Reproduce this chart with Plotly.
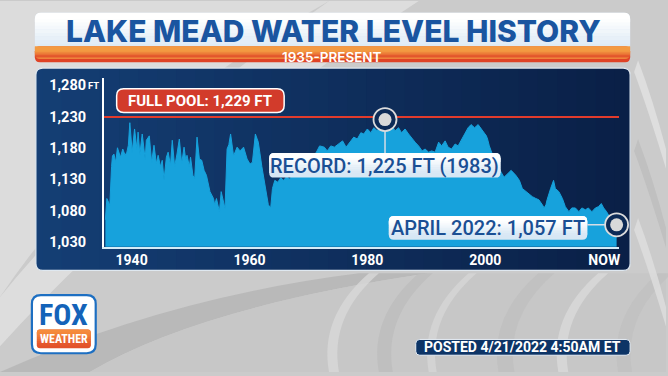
import plotly.graph_objects as go

# ---------------- data ----------------
years = [1935.55, 1935.8, 1936.0, 1936.3, 1936.6, 1936.75, 1937.0, 1937.3, 1937.6, 1938.1,
         1938.5, 1938.9, 1939.2, 1939.45, 1939.7, 1940.1, 1940.5, 1940.9, 1941.1, 1941.4,
         1941.8, 1942.3, 1942.5, 1943.0, 1943.4, 1943.8, 1944.2, 1944.5, 1944.9, 1945.2,
         1945.5, 1945.9, 1946.2, 1946.6, 1946.9, 1947.3, 1947.7, 1948.1, 1948.5, 1948.9,
         1949.2, 1949.4, 1949.8, 1950.0, 1950.4, 1950.7, 1951.1, 1951.5, 1951.9, 1952.3,
         1952.7, 1953.3, 1953.9, 1954.1, 1954.4, 1954.9, 1955.2, 1955.6, 1955.85, 1956.2,
         1956.5, 1956.8, 1957.3, 1957.9, 1958.4, 1959.0, 1959.6, 1960.1, 1960.5, 1961.0,
         1961.5, 1962.1, 1962.6, 1963.2, 1963.6, 1963.9, 1964.3, 1964.8, 1965.3, 1965.8,
         1966.3, 1966.8, 1967.5, 1968.2, 1969.0, 1969.8, 1970.6, 1971.3, 1971.9, 1972.7,
         1973.2, 1973.8, 1974.4, 1975.1, 1975.8, 1976.4, 1977.0, 1977.7, 1978.3, 1978.9,
         1979.4, 1980.0, 1980.6, 1981.1, 1981.7, 1982.2, 1982.6, 1983.0, 1983.6, 1984.2,
         1984.7, 1985.3, 1985.8, 1986.4, 1987.0, 1987.6, 1988.1, 1988.7, 1989.3, 1989.8,
         1990.4, 1990.9, 1991.5, 1992.1, 1992.6, 1993.2, 1993.7, 1994.3, 1994.9, 1995.4,
         1996.0, 1996.5, 1997.1, 1997.6, 1998.2, 1998.8, 1999.4, 1999.9, 2000.2, 2000.4,
         2000.7, 2001.2, 2001.7, 2002.1, 2002.7, 2003.2, 2003.8, 2004.4, 2005.2, 2005.8,
         2006.3, 2006.9, 2007.4, 2008.0, 2008.6, 2009.1, 2009.7, 2010.0, 2010.3, 2010.5,
         2011.1, 2011.6, 2011.9, 2012.5, 2013.1, 2013.6, 2014.2, 2014.7, 2015.3, 2015.9,
         2016.4, 2017.0, 2017.5, 2018.1, 2018.7, 2019.2, 2019.7, 2020.1, 2020.6, 2021.2,
         2021.8, 2022.3]
levels = [1065, 1099, 1095, 1088, 1150, 1167, 1170, 1157, 1180, 1165,
          1178, 1168, 1173, 1184, 1220, 1173, 1210, 1178, 1205, 1170,
          1202, 1162, 1192, 1199, 1157, 1184, 1155, 1168, 1150, 1160,
          1129, 1165, 1173, 1152, 1192, 1150, 1170, 1194, 1155, 1181,
          1160, 1168, 1150, 1165, 1136, 1131, 1197, 1162, 1160, 1144,
          1136, 1110, 1099, 1089, 1099, 1078, 1110, 1094, 1083, 1178,
          1185, 1202, 1167, 1181, 1175, 1181, 1162, 1154, 1157, 1202,
          1189, 1150, 1120, 1089, 1084, 1115, 1128, 1125, 1132, 1128,
          1134, 1130, 1138, 1145, 1152, 1160, 1166, 1172, 1183, 1181,
          1175, 1183, 1181, 1186, 1191, 1181, 1188, 1197, 1194, 1204,
          1202, 1210, 1204, 1212, 1207, 1217, 1213, 1225, 1210, 1215,
          1207, 1212, 1204, 1210, 1202, 1194, 1189, 1183, 1175, 1178,
          1173, 1175, 1173, 1189, 1183, 1191, 1181, 1178, 1186, 1183,
          1194, 1202, 1212, 1217, 1212, 1217, 1210, 1204, 1199, 1194,
          1183, 1170, 1160, 1152, 1141, 1133, 1139, 1144, 1136, 1128,
          1115, 1110, 1107, 1102, 1099, 1097, 1089, 1084, 1089, 1097,
          1115, 1128, 1115, 1110, 1099, 1086, 1078, 1084, 1084, 1078,
          1084, 1081, 1084, 1078, 1084, 1086, 1091, 1084, 1078, 1068,
          1062, 1057]

full_pool = 1229
record_year, record_level = 1983.0, 1225
now_year, now_level = 2022.3, 1057

x_tickvals = [1940, 1960, 1980, 2000, 2020.2]
x_ticktext = ["1940", "1960", "1980", "2000", "NOW"]
y_tickvals = [1030, 1080, 1130, 1180, 1230, 1280]
y_ticktext = [f"{v:,}" for v in y_tickvals]

title_text = "LAKE MEAD WATER LEVEL HISTORY"
subtitle_text = "1935-PRESENT"
pool_text = f"FULL POOL: {full_pool:,} FT"
record_text = f"RECORD: {record_level:,} FT ({int(record_year)})"
now_text = f"APRIL 2022: {now_level:,} FT"
posted_text = "POSTED 4/21/2022 4:50AM ET"

# ---------------- helpers ----------------
W, H = 668, 376


def X(x):
    return x / W


def Y(y):
    return 1 - y / H


def rr_path(x0, y0, x1, y1, r):
    return (f"M {X(x0 + r)},{Y(y0)} L {X(x1 - r)},{Y(y0)} Q {X(x1)},{Y(y0)} {X(x1)},{Y(y0 + r)} "
            f"L {X(x1)},{Y(y1 - r)} Q {X(x1)},{Y(y1)} {X(x1 - r)},{Y(y1)} "
            f"L {X(x0 + r)},{Y(y1)} Q {X(x0)},{Y(y1)} {X(x0)},{Y(y1 - r)} "
            f"L {X(x0)},{Y(y0 + r)} Q {X(x0)},{Y(y0)} {X(x0 + r)},{Y(y0)} Z")


shapes = []


def rrect(x0, y0, x1, y1, r, fill, line=None, lw=0, layer="below"):
    shapes.append(dict(type="path", xref="paper", yref="paper", path=rr_path(x0, y0, x1, y1, r),
                       fillcolor=fill, line=dict(color=line or "rgba(0,0,0,0)", width=lw), layer=layer))


def rect(x0, y0, x1, y1, fill, layer="below"):
    shapes.append(dict(type="rect", xref="paper", yref="paper", x0=X(x0), x1=X(x1), y0=Y(y1), y1=Y(y0),
                       fillcolor=fill, line=dict(width=0), layer=layer))


def path(d, fill, layer="below", opacity=1.0):
    shapes.append(dict(type="path", xref="paper", yref="paper", path=d, fillcolor=fill,
                       line=dict(width=0), layer=layer, opacity=opacity))


def hexrgb(h):
    h = h.lstrip("#")
    return [int(h[i:i + 2], 16) for i in (0, 2, 4)]


def mix(c1, c2, t):
    a, b = hexrgb(c1), hexrgb(c2)
    return "rgb(%d,%d,%d)" % tuple(round(a[i] + (b[i] - a[i]) * t) for i in range(3))


def vgrad_rrect(x0, y0, x1, y1, r, ctop, cbot, n=10, layer="below"):
    rrect(x0, y0, x1, y1, r, cbot, layer=layer)
    rrect(x0, y0, x1, y0 + 2.5 * r, r, ctop, layer=layer)
    ya, yb = y0 + r, y1 - r
    for i in range(n):
        s0 = ya + (yb - ya) * i / n
        s1 = ya + (yb - ya) * (i + 1) / n + 0.3
        rect(x0, s0, x1, s1, mix(ctop, cbot, (i + 0.5) / n), layer=layer)


def pp(*pts):
    return " ".join(f"{X(a)},{Y(b)}" for a, b in pts)


# ---------------- background swirls ----------------
path(f"M {pp((0,0))} L {pp((330,0))} Q {pp((120,120))} {pp((0,300))} Z", "#dcdcdc")
path(f"M {pp((0,300))} Q {pp((120,150))} {pp((330,0))} L {pp((420,0))} Q {pp((160,170))} {pp((0,350))} Z",
     "#e4e4e4", opacity=0.7)
path(f"M {pp((0,376))} Q {pp((170,300))} {pp((360,276))} L {pp((430,276))} Q {pp((200,310))} {pp((90,376))} Z",
     "#b4b4b4", opacity=0.8)
path(f"M {pp((90,376))} Q {pp((200,310))} {pp((430,276))} L {pp((668,276))} L {pp((668,376))} Z",
     "#c6c6c6", opacity=0.9)
for xs, col, wdt in [(330, "#d8d8d8", 10), (380, "#bdbdbd", 14), (430, "#d6d6d6", 8),
                     (500, "#bfbfbf", 16), (560, "#dadada", 10), (620, "#c0c0c0", 14)]:
    path(f"M {pp((xs,376))} Q {pp((xs-10,320))} {pp((xs+40,276))} L {pp((xs+40+wdt,276))} "
         f"Q {pp((xs+wdt-10,320))} {pp((xs+wdt,376))} Z", col, opacity=0.8)
for ys, col in [(60, "#e2e2e2"), (140, "#bdbdbd"), (220, "#dedede")]:
    path(f"M {pp((640,ys))} Q {pp((655,ys+40))} {pp((668,ys+90))} L {pp((668,ys+110))} "
         f"Q {pp((650,ys+50))} {pp((636,ys+12))} Z", col, opacity=0.8)

# ---------------- title box ----------------
vgrad_rrect(35, 12, 632, 60, 6, "#ffffff", "#d3e4f2", n=10)
rect(35, 46, 632, 53, "#f39a42")
vgrad_rrect(35, 46, 632, 62, 5, "#f39a42", "#df4326", n=8)
rect(35, 46, 632, 50, "#f39a42")

# ---------------- chart panel ----------------
px0, py0, px1, py1 = 36, 68, 632, 273
left_c, right_c = "#143e74", "#0a2047"
rrect(px0, py0, px1, py1, 7, left_c)
rrect(px1 - 24, py0, px1, py1, 7, right_c)
n = 30
for i in range(n):
    a = px0 + 7 + (px1 - 16 - px0 - 7) * i / n
    b = px0 + 7 + (px1 - 16 - px0 - 7) * (i + 1) / n + 0.4
    rect(a, py0, b, py1, mix(left_c, right_c, (i + 0.5) / n))
rrect(px0, py0, px1, py1, 7, "rgba(0,0,0,0)", line="#dfe8f0", lw=1.2)

# ---------------- labels boxes (above traces) ----------------
rrect(117, 89, 285, 113, 7, "#d23b2b", line="#ffffff", lw=1.5, layer="above")
vgrad_rrect(270, 154, 502, 179, 5, "#ffffff", "#d7e7f4", n=8, layer="above")
vgrad_rrect(390, 218, 589, 242, 5, "#ffffff", "#d7e7f4", n=8, layer="above")
# connectors
shapes.append(dict(type="line", xref="x", yref="paper", x0=record_year, x1=record_year,
                   y0=Y(132), y1=Y(154), line=dict(color="#d5dde6", width=1.5), layer="above"))
shapes.append(dict(type="line", xref="paper", yref="y", x0=X(589), x1=X(607),
                   y0=now_level, y1=now_level, line=dict(color="#d5dde6", width=1.5), layer="above"))

# ---------------- logo + posted pill ----------------
rrect(32, 298, 96, 357, 9, "#ffffff", line="#1d6fc2", lw=2.2, layer="above")
vgrad_rrect(37, 333, 91, 352, 3, "#f58b3c", "#e2522a", n=6, layer="above")
rrect(417, 343, 632, 359, 4, "#0d3466", line="#e8eef5", lw=1, layer="above")

# ---------------- traces ----------------
x_lo = 1940 - 28 / 5.911
x_hi = 1940 + 489 / 5.911

fig = go.Figure()
fig.add_trace(go.Scatter(x=years, y=levels, mode="lines", fill="tozeroy",
                         fillcolor="#17a2dc", line=dict(color="#17a2dc", width=1),
                         hoverinfo="skip", showlegend=False))
fig.add_trace(go.Scatter(x=[x_lo, x_hi], y=[full_pool, full_pool], mode="lines",
                         line=dict(color="#e23b2c", width=2), showlegend=False))
fig.add_trace(go.Scatter(x=[record_year, now_year], y=[record_level, now_level], mode="markers",
                         marker=dict(size=23, color="#0c2a56", line=dict(color="#dcdcdc", width=1.8)),
                         cliponaxis=False, showlegend=False))
fig.add_trace(go.Scatter(x=[record_year, now_year], y=[record_level, now_level], mode="markers",
                         marker=dict(size=13, color="#d9d9d9", line=dict(width=0)),
                         cliponaxis=False, showlegend=False))

FONT = "Roboto, Open Sans, sans-serif"
TFONT = "Inter, Roboto, sans-serif"
NARROW = "Liberation Sans Narrow, Roboto Condensed, Roboto, sans-serif"
ann = []


def text(x, y, s, size, color, weight="bold", family=FONT, xanchor="center", yref="paper"):
    ann.append(dict(x=X(x), y=(Y(y) if yref == "paper" else y), xref="paper", yref=yref, text=s,
                    showarrow=False, xanchor=xanchor, yanchor="middle",
                    font=dict(family=family, size=size, color=color, weight=weight)))


text(334, 30, title_text, 30, "#1a55a0", weight=800, family=TFONT)
text(333, 56.5, subtitle_text, 13.5, "#ffffff", weight=600, family=TFONT)
text(201, 101, pool_text, 15, "#ffffff")
text(386, 167, record_text, 20, "#1a4f94", weight=500)
text(489, 230, now_text, 20, "#1a4f94", weight=500)
text(86, 1280, "FT", 9.5, "#ffffff", xanchor="left", yref="y")
text(64, 318, "FOX", 30, "#1463b9", family=NARROW)
text(64, 343, "WEATHER", 12, "#ffffff", family=NARROW)
text(524, 351, posted_text, 14, "#ffffff")

fig.update_layout(
    width=W, height=H, autosize=False,
    margin=dict(l=0, r=0, t=0, b=0),
    paper_bgcolor="#cbcbcb", plot_bgcolor="rgba(0,0,0,0)",
    shapes=shapes, annotations=ann, showlegend=False,
    xaxis=dict(domain=[X(104), X(621)], range=[x_lo, x_hi], tickvals=x_tickvals, ticktext=x_ticktext,
               tickfont=dict(family=FONT, size=14, color="#ffffff", weight="bold"),
               showgrid=False, zeroline=False, showline=True, linecolor="#d6ecf7", linewidth=1.5,
               ticks="", fixedrange=True),
    yaxis=dict(domain=[Y(249), Y(78)], range=[1030 - 5 / 0.635, 1230 + 39 / 0.635],
               tickvals=y_tickvals, ticktext=y_ticktext,
               tickfont=dict(family=FONT, size=14.5, color="#ffffff", weight="bold"),
               ticklabelstandoff=13,
               showgrid=False, zeroline=False, showline=True, linecolor="#ffffff", linewidth=1.5,
               ticks="", fixedrange=True),
)

fig.write_html("out.html", config={"displayModeBar": False},
               post_script="document.body.style.margin='0px';document.body.style.overflow='hidden';")
